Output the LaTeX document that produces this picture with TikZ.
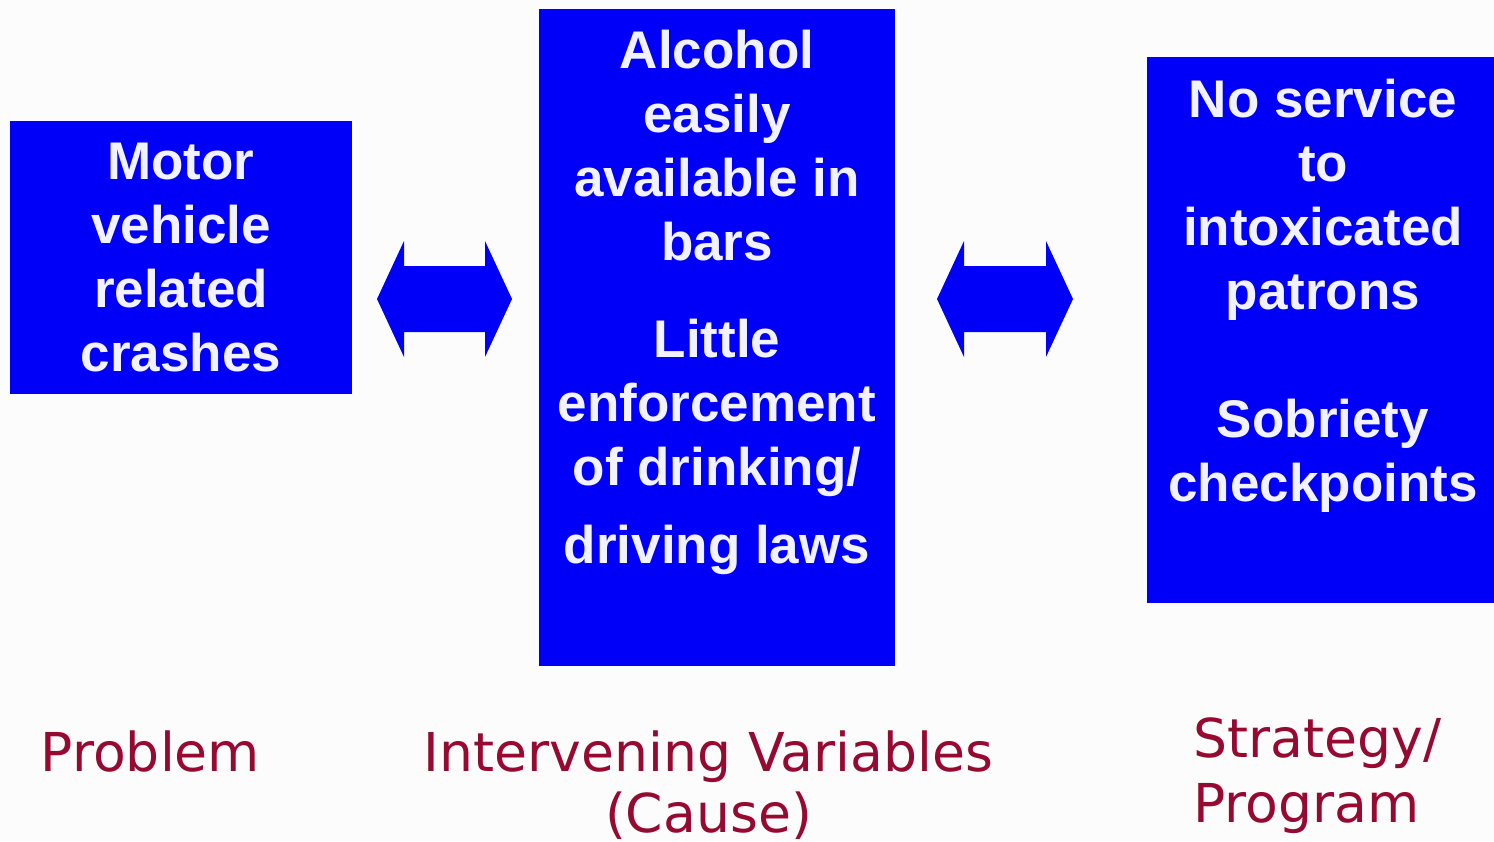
\documentclass[tikz,border=0pt]{standalone}
\usepackage{fontspec}
\setmainfont{Liberation Sans}
\newfontfamily\labelfont{DejaVu Sans}
\usetikzlibrary{calc}
\definecolor{boxblue}{RGB}{0,0,250}
\definecolor{boxtext}{RGB}{242,242,252}
\definecolor{labred}{RGB}{150,10,50}
\definecolor{bgwhite}{RGB}{252,252,252}
\newcommand\blockarrow[2]{\fill[boxblue] (#1) -- ++(27,-58) -- ++(0,25) -- ($(#2)+(-27,-33)$) -- ++(0,-25) -- (#2) -- ++(-27,58) -- ++(0,-25) -- ($(#1)+(27,33)$) -- ++(0,25) -- cycle;}

\begin{document}
\begin{tikzpicture}[x=0.5pt,y=-0.5pt,
  box/.style={fill=boxblue,inner sep=0,outer sep=0},
  boxtxt/.style={text=boxtext,font=\fontsize{26.5}{32}\selectfont\bfseries,align=center,inner sep=0},
  lab/.style={text=labred,font=\labelfont\fontsize{26.8}{30.5}\selectfont,inner sep=0}]
\fill[bgwhite] (0,0) rectangle (1494,841);
\useasboundingbox (0,0) rectangle (1494,841);
% boxes
\node[box,minimum width=171pt,minimum height=136.5pt] (problem) at (181,257.5) {};
\node[box,minimum width=178pt,minimum height=328.5pt] (cause) at (717,337.5) {};
\node[box,minimum width=176.5pt,minimum height=273pt] (strategy) at (1323.5,330) {};
\node[boxtxt] (ptext) at (181,257.5) {Motor\\vehicle\\related\\crashes};
\node[boxtxt] (ctexta) at (717,146) {Alcohol\\easily\\available in\\bars};
\node[boxtxt] (ctextb) at (717,446.5) {Little\\enforcement\\of drinking/\\[7pt]driving laws};
\node[boxtxt] (stexta) at (1323,200) {No service\\to\\intoxicated\\patrons};
\node[boxtxt] (stextb) at (1323,456) {Sobriety\\checkpoints};
% arrows
\coordinate (a1l) at (377,299);
\coordinate (a1r) at (512,299);
\coordinate (a2l) at (937,299);
\coordinate (a2r) at (1073,299);
\blockarrow{a1l}{a1r}
\blockarrow{a2l}{a2r}
% labels
\node[lab] (plab) at (150.5,751.5) {Problem};
\node[lab,align=center] (clab) at (708.5,785.5) {Intervening Variables\\(Cause)};
\node[lab,align=left,anchor=west,font=\labelfont\fontsize{26.8}{32.5}\selectfont] (slab) at (1193,775.5) {Strategy/\\Program};
\end{tikzpicture}
\end{document}
